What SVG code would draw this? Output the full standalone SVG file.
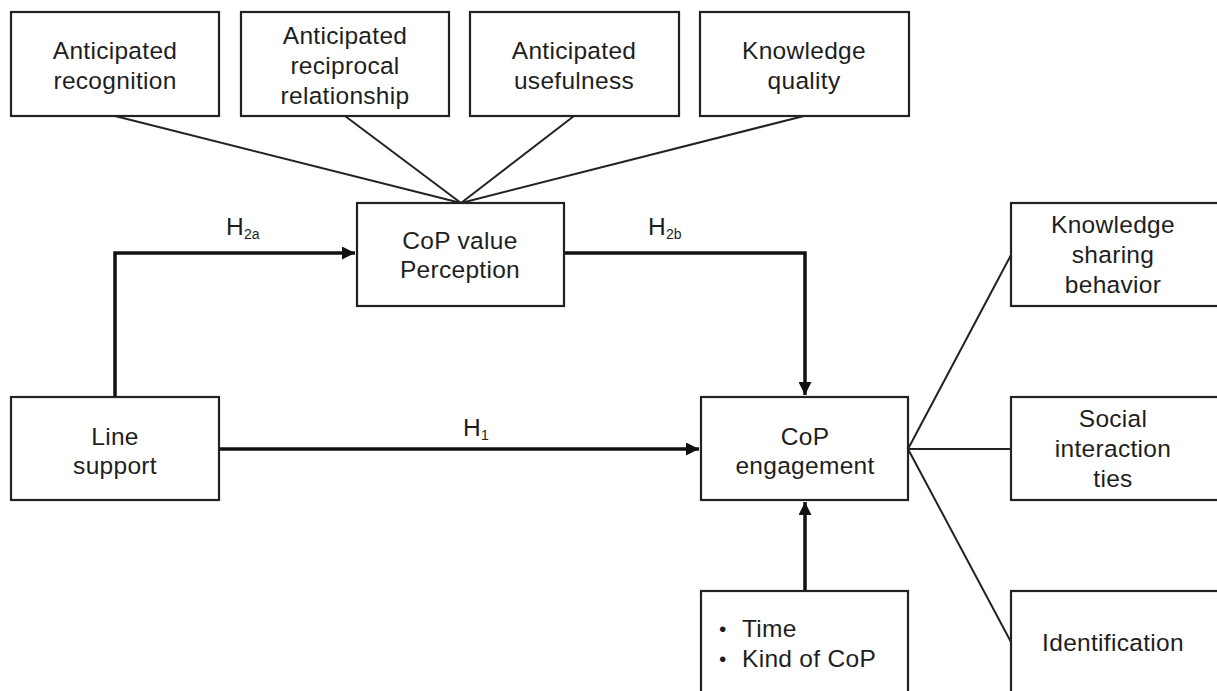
<svg xmlns="http://www.w3.org/2000/svg" width="1217" height="691" viewBox="0 0 1217 691">
  <style>
    .box { fill: #ffffff; stroke: #222222; stroke-width: 2.2; }
    .lbl { font-family: "Liberation Sans", Arial, sans-serif; font-size: 24.5px; letter-spacing: 0.3px; fill: #1e1e1e; text-anchor: middle; }
    .lbl-l { font-family: "Liberation Sans", Arial, sans-serif; font-size: 24.5px; letter-spacing: 0.3px; fill: #1e1e1e; }
    .bullet { font-family: "Liberation Sans", Arial, sans-serif; font-size: 21px; fill: #1e1e1e; }
    .sub { font-size: 14px; letter-spacing: 0; }
    .thin { fill: none; stroke: #222222; stroke-width: 2; }
    .thick { fill: none; stroke: #111111; stroke-width: 3.5; }
  </style>
  <defs>
    <marker id="arrow" viewBox="0 0 10 10" refX="10" refY="5" markerUnits="userSpaceOnUse" markerWidth="13" markerHeight="13" orient="auto">
      <path d="M0,0 L10,5 L0,10 Z" fill="#111111"/>
    </marker>
  </defs>
  <rect width="1217" height="691" fill="#ffffff"/>

  <!-- connectors -->
  <g id="connectors">
    <!-- antecedents of CoP value perception -->
    <line class="thin" x1="115" y1="116" x2="461" y2="203"/>
    <line class="thin" x1="345" y1="116" x2="461" y2="203"/>
    <line class="thin" x1="574" y1="116" x2="461" y2="203"/>
    <line class="thin" x1="804" y1="116" x2="461" y2="203"/>
    <!-- outcomes of CoP engagement -->
    <line class="thin" x1="908" y1="449" x2="1011" y2="255"/>
    <line class="thin" x1="908" y1="449" x2="1011" y2="449"/>
    <line class="thin" x1="908" y1="449" x2="1011" y2="642"/>
    <!-- hypothesised paths -->
    <path class="thick" d="M115,397 V253 H355" marker-end="url(#arrow)"/>
    <path class="thick" d="M564,253 H805 V395" marker-end="url(#arrow)"/>
    <path class="thick" d="M219,449 H699" marker-end="url(#arrow)"/>
    <path class="thick" d="M805,591 V502" marker-end="url(#arrow)"/>
    <!-- path labels -->
    <text class="lbl-l" x="226" y="235">H<tspan class="sub" dy="4">2a</tspan></text>
    <text class="lbl-l" x="648" y="235">H<tspan class="sub" dy="4">2b</tspan></text>
    <text class="lbl-l" x="463" y="436">H<tspan class="sub" dy="4">1</tspan></text>
  </g>

  <g id="anticipated-recognition">
    <rect class="box" x="11" y="12" width="208" height="104"/>
    <text class="lbl" x="115" y="58.5">Anticipated</text>
    <text class="lbl" x="115" y="88.5">recognition</text>
  </g>
  <g id="anticipated-reciprocal-relationship">
    <rect class="box" x="241" y="12" width="208" height="104"/>
    <text class="lbl" x="345" y="44">Anticipated</text>
    <text class="lbl" x="345" y="74">reciprocal</text>
    <text class="lbl" x="345" y="104">relationship</text>
  </g>
  <g id="anticipated-usefulness">
    <rect class="box" x="470" y="12" width="209" height="104"/>
    <text class="lbl" x="574" y="58.5">Anticipated</text>
    <text class="lbl" x="574" y="88.5">usefulness</text>
  </g>
  <g id="knowledge-quality">
    <rect class="box" x="700" y="12" width="209" height="104"/>
    <text class="lbl" x="804" y="58.5">Knowledge</text>
    <text class="lbl" x="804" y="88.5">quality</text>
  </g>

  <g id="cop-value-perception">
    <rect class="box" x="357" y="203" width="207" height="103"/>
    <text class="lbl" x="460" y="249">CoP value</text>
    <text class="lbl" x="460" y="278">Perception</text>
  </g>

  <g id="line-support">
    <rect class="box" x="11" y="397" width="208" height="103"/>
    <text class="lbl" x="115" y="445">Line</text>
    <text class="lbl" x="115" y="474">support</text>
  </g>

  <g id="cop-engagement">
    <rect class="box" x="701" y="397" width="207" height="103"/>
    <text class="lbl" x="805" y="445">CoP</text>
    <text class="lbl" x="805" y="474">engagement</text>
  </g>

  <g id="controls">
    <rect class="box" x="701" y="591" width="207" height="110"/>
    <text class="bullet" x="719" y="636">•</text>
    <text class="lbl-l" x="742" y="637">Time</text>
    <text class="bullet" x="719" y="666">•</text>
    <text class="lbl-l" x="742" y="667">Kind of CoP</text>
  </g>

  <g id="knowledge-sharing-behavior">
    <rect class="box" x="1011" y="203" width="215" height="103"/>
    <text class="lbl" x="1113" y="233">Knowledge</text>
    <text class="lbl" x="1113" y="263">sharing</text>
    <text class="lbl" x="1113" y="293">behavior</text>
  </g>

  <g id="social-interaction-ties">
    <rect class="box" x="1011" y="397" width="215" height="103"/>
    <text class="lbl" x="1113" y="427">Social</text>
    <text class="lbl" x="1113" y="457">interaction</text>
    <text class="lbl" x="1113" y="487">ties</text>
  </g>

  <g id="identification">
    <rect class="box" x="1011" y="591" width="215" height="110"/>
    <text class="lbl" x="1113" y="651">Identification</text>
  </g>
</svg>
